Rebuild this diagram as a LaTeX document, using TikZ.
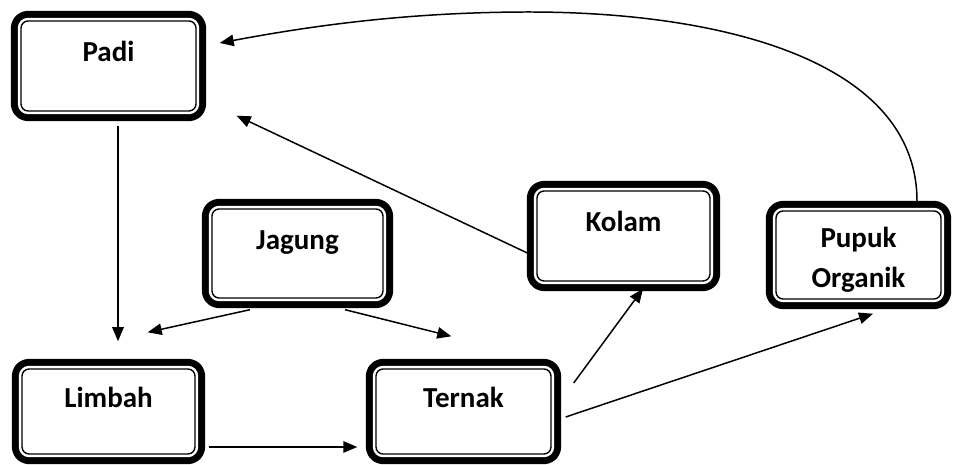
\documentclass[tikz,border=0pt]{standalone}
\usepackage{fontspec}
\setmainfont{Carlito}
\usetikzlibrary{arrows.meta,calc}
\tikzset{
  kotak/.style={rounded corners=4pt, draw, line width=0.8pt, fill=white,
    minimum width=3.46cm, minimum height=1.78cm, inner sep=2pt,
    font=\fontsize{16.5}{23}\selectfont\bfseries, align=center,
    preaction={draw=black, line width=11.6pt},
    preaction={draw=white, line width=3.6pt}},
  satu/.style={text height=11pt, text depth=16pt},
  panah/.style={-{Triangle[length=8pt,width=6.5pt]}, line width=0.85pt}
}
\begin{document}
\begin{tikzpicture}[x=0.02cm, y=-0.02cm, line join=round]
	\useasboundingbox (0,0) rectangle (953,465);
	% kotak
	\node[kotak, satu, minimum width=3.5cm, minimum height=1.8cm] (padi) at (108.5,66) {Padi};
	\node[kotak, satu, minimum width=3.42cm] (jagung) at (297.5,253.5) {Jagung};
	\node[kotak, satu, minimum height=1.8cm] (kolam) at (623.5,236) {Kolam};
	\node[kotak, satu, minimum height=1.7cm] (limbah) at (108.5,411.5) {Limbah};
	\node[kotak, satu, minimum width=3.5cm, minimum height=1.7cm] (ternak) at (463.5,411.5) {Ternak};
	\node[kotak, minimum width=3.3cm, minimum height=1.76cm, text height=40pt, text depth=3pt] (pupuk) at (858.5,255) {Pupuk\\Organik};
	% panah
	\draw[panah] ($(padi.south)+(9.5,14)$) -- ($(limbah.north)+(9.5,-27)$);
	\draw[panah] ($(jagung.south)+(-47.5,11)$) -- ($(limbah.north east)+(-48,-36)$);
	\draw[panah] ($(jagung.south)+(47.5,11)$) -- ($(ternak.north west)+(76,-32)$);
	\draw[panah] ($(limbah.east)+(13,35.5)$) -- ($(ternak.west)+(-18,35.5)$);
	\draw[panah] ($(ternak.east)+(22,-28.5)$) -- ($(kolam.south)+(19.5,7)$);
	\draw[panah] ($(ternak.east)+(14,5.5)$) -- ($(pupuk.south)+(14.5,14)$);
	\draw[panah] ($(kolam.west)+(-9,17)$) -- ($(padi.south east)+(40,4)$);
	\draw[panah] ($(pupuk.north)+(58.5,-9)$) .. controls (917,60) and (720,12) .. (529,12)
		.. controls (400,12) and (300,28) .. ($(padi.east)+(23,-23)$);
\end{tikzpicture}
\end{document}
